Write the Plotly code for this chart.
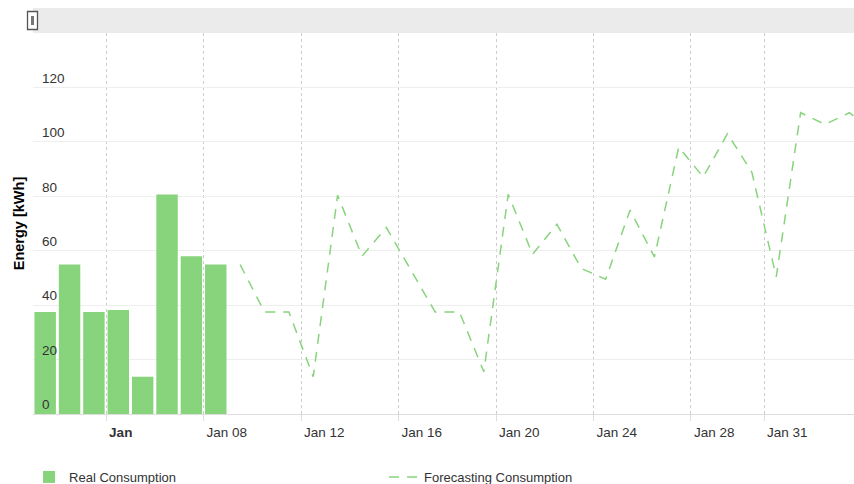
import plotly.graph_objects as go

# ---- data ----
real_dates = ["2023-01-01", "2023-01-02", "2023-01-03", "2023-01-04",
              "2023-01-05", "2023-01-06", "2023-01-07", "2023-01-08"]
real_values = [37.5, 54.9, 37.5, 38.2, 13.7, 80.7, 58.0, 54.9]

forecast_dates = ["2023-01-09", "2023-01-10", "2023-01-11", "2023-01-12", "2023-01-13",
                  "2023-01-14", "2023-01-15", "2023-01-16", "2023-01-17", "2023-01-18",
                  "2023-01-19", "2023-01-20", "2023-01-21", "2023-01-22", "2023-01-23",
                  "2023-01-24", "2023-01-25", "2023-01-26", "2023-01-27", "2023-01-28",
                  "2023-01-29", "2023-01-30", "2023-01-31", "2023-02-01", "2023-02-02",
                  "2023-02-03", "2023-02-04"]
forecast_values = [54.9, 37.5, 37.5, 13.7, 80.4, 58.0, 68.5, 53.0, 37.5, 37.5,
                   15.5, 80.7, 58.7, 69.7, 53.5, 49.5, 74.9, 57.7, 98.1, 87.1,
                   103.0, 88.8, 50.4, 110.7, 106.4, 110.7, 104.0]

x_tick_dates = ["2023-01-04", "2023-01-08", "2023-01-12", "2023-01-16",
                "2023-01-20", "2023-01-24", "2023-01-28", "2023-01-31"]
x_tick_labels = ["<b>Jan</b>", "Jan 08", "Jan 12", "Jan 16",
                 "Jan 20", "Jan 24", "Jan 28", "Jan 31"]
y_tick_values = [0, 20, 40, 60, 80, 100, 120]

GREEN = "#88d47c"
FONT = "Arial, Liberation Sans, sans-serif"
DAY_MS = 86400000

fig = go.Figure()
fig.add_trace(go.Bar(
    x=real_dates, y=real_values, name="Real Consumption",
    xperiod=DAY_MS, xperiodalignment="middle",
    marker=dict(color=GREEN, line=dict(width=0)),
))
fig.add_trace(go.Scatter(
    x=forecast_dates, y=forecast_values, name="Forecasting Consumption",
    mode="lines", xperiod=DAY_MS, xperiodalignment="middle",
    line=dict(color=GREEN, width=1.5, dash="10px,8px"),
))

W, H = 854, 484
ML, MR, MT, MB = 33, 0, 33, 70
pw, ph = W - ML - MR, H - MT - MB

def px_x(p):  # screen px -> paper
    return (p - ML) / pw

def px_y(p):
    return (H - MB - p) / ph

shapes = [
    # scrollbar band
    dict(type="rect", xref="paper", yref="paper",
         x0=px_x(33), x1=px_x(854), y0=px_y(33), y1=px_y(8),
         fillcolor="#ebebeb", line=dict(width=0), layer="above"),
    # scrollbar grip
    dict(type="rect", xref="paper", yref="paper",
         x0=px_x(27.5), x1=px_x(37.5), y0=px_y(29.5), y1=px_y(11.5),
         fillcolor="#ffffff", line=dict(color="#555555", width=1.3), layer="above"),
    dict(type="rect", xref="paper", yref="paper",
         x0=px_x(31), x1=px_x(34), y0=px_y(25), y1=px_y(16),
         fillcolor="#777777", line=dict(width=0), layer="above"),
]

fig.update_layout(
    width=W, height=H,
    margin=dict(l=ML, r=MR, t=MT, b=MB),
    paper_bgcolor="white", plot_bgcolor="white",
    font=dict(family=FONT, size=13, color="#333333"),
    bargap=0.12,
    shapes=shapes,
    showlegend=True,
    legend=dict(orientation="h", xref="container", yref="container",
                x=0.034, y=(484 - 462) / 484, xanchor="left", yanchor="top",
                font=dict(size=13, color="#333333"),
                entrywidth=310, traceorder="normal"),
    xaxis=dict(
        type="date",
        range=["2023-01-01 00:00", "2023-02-03 16:35"],
        tickmode="array", tickvals=x_tick_dates, ticktext=x_tick_labels,
        ticklabelposition="outside right", ticklabelstandoff=6, ticklabelshift=2,
        showgrid=True, gridcolor="#cccccc", griddash="dot", gridwidth=1,
        ticks="outside", ticklen=6, tickcolor="#dddddd",
        showline=True, linecolor="#dddddd", linewidth=1,
        zeroline=False, fixedrange=True,
        tickfont=dict(size=13.5, color="#333333"),
    ),
    yaxis=dict(
        range=[0, 140],
        tickmode="array", tickvals=y_tick_values,
        ticklabelposition="inside top", ticklabelstandoff=6,
        showgrid=True, gridcolor="#eeeeee", gridwidth=1,
        zeroline=False, showline=False, ticks="",
        tickfont=dict(size=13.5, color="#333333"),
        title=dict(text="<b>Energy [kWh]</b>", font=dict(size=14.5, color="#000000"),
                   standoff=13),
    ),
)

fig.write_html(
    "out.html",
    config={"responsive": False, "displayModeBar": False},
    post_script="document.body.style.margin='0';document.body.style.overflow='hidden';",
)
